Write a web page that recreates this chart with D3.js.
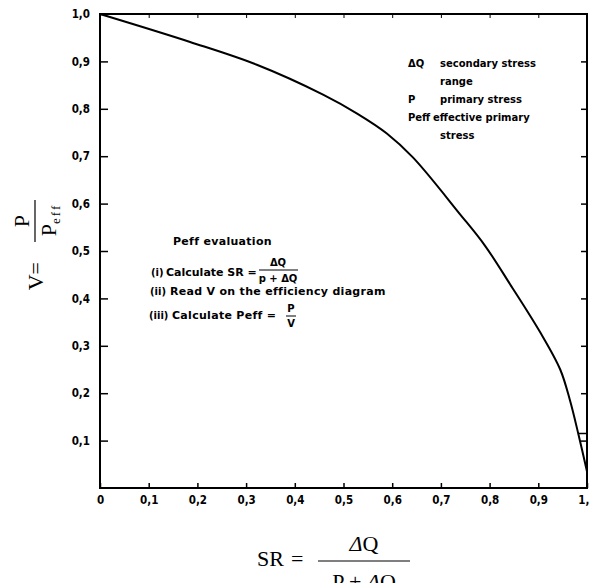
<!DOCTYPE html>
<html>
<head>
<meta charset="utf-8">
<script src="https://cdn.jsdelivr.net/npm/d3@7"></script>
<style>
  body { margin: 0; background: white; }
</style>
</head>
<body>
<div id="chart"></div>
<script>
// efficiency diagram V = P/Peff against SR
const srValues = [0, 0.185, 0.322, 0.458, 0.528, 0.589, 0.643, 0.739, 0.79, 0.842, 0.903, 0.945, 0.965, 0.982, 1.0];
const vValues  = [1.0, 0.941, 0.893, 0.830, 0.790, 0.748, 0.697, 0.578, 0.512, 0.430, 0.330, 0.250, 0.185, 0.115, 0.035];
const xTicks = [0, 0.1, 0.2, 0.3, 0.4, 0.5, 0.6, 0.7, 0.8, 0.9, 1.0];
const yTicks = [0.1, 0.2, 0.3, 0.4, 0.5, 0.6, 0.7, 0.8, 0.9, 1.0];
const legendLines = [
  ["ΔQ", "secondary stress"],
  ["", "range"],
  ["P", "primary stress"],
  ["Peff", "effective primary"],
  ["", "stress"]
];

const width = 589;
const height = 583;
const margin = {top: 14, right: 2, bottom: 95, left: 100};
const labelFont = "'DejaVu Sans Condensed', 'DejaVu Sans', sans-serif";
const noteFont = "'DejaVu Sans', sans-serif";
const serif = "'Liberation Serif', 'DejaVu Serif', serif";

const svg = d3.select('#chart')
              .append('svg')
              .attr('width', width)
              .attr('height', height)
              .style('background', 'white');

const x = d3.scaleLinear()
            .domain([0, 1])
            .range([margin.left, width - margin.right]);
const y = d3.scaleLinear()
            .domain([0, 1])
            .range([height - margin.bottom, margin.top]);

const fmt = d => d === 0 ? "0" : d3.format(".1f")(d).replace(".", ",");

// axes, ticks pointing inwards
svg.append("g")
   .attr("transform", `translate(${margin.left},0)`)
   .call(d3.axisLeft(y).tickValues(yTicks).tickFormat(fmt).tickSizeInner(-8).tickSizeOuter(0).tickPadding(10))
   .call(g => g.select(".domain").remove())
   .call(g => g.selectAll("text").style("font-family", labelFont).style("font-size", "11.5px").style("font-weight", "bold"))
   .call(g => g.selectAll("line").attr("stroke-width", 1.5));

svg.append("g")
   .attr("transform", `translate(0,${height - margin.bottom})`)
   .call(d3.axisBottom(x).tickValues(xTicks).tickFormat(fmt).tickSizeInner(-5).tickSizeOuter(0).tickPadding(8))
   .call(g => g.select(".domain").remove())
   .call(g => g.selectAll("text").style("font-family", labelFont).style("font-size", "11.5px").style("font-weight", "bold"))
   .call(g => g.selectAll("line").attr("stroke-width", 1.5));

svg.append("g")
   .attr("transform", `translate(0,${margin.top})`)
   .call(d3.axisTop(x).tickValues(xTicks.slice(1, -1)).tickFormat("").tickSizeInner(-4).tickSizeOuter(0))
   .call(g => g.select(".domain").remove());

svg.append("g")
   .attr("transform", `translate(${width - margin.right},0)`)
   .call(d3.axisRight(y).tickValues(yTicks.slice(0, -1)).tickFormat("").tickSizeInner(-6).tickSizeOuter(0))
   .call(g => g.select(".domain").remove())
   .call(g => g.selectAll("line").attr("stroke-width", 1.5));

svg.append("rect")
   .attr("x", x(0))
   .attr("y", y(1))
   .attr("width", x(1) - x(0))
   .attr("height", y(0) - y(1))
   .attr("fill", "none")
   .attr("stroke", "black")
   .attr("stroke-width", 2);

// curve
const pts = srValues.map((s, i) => [s, vValues[i]]);
svg.append("path")
   .datum(pts)
   .attr("d", d3.line().x(d => x(d[0])).y(d => y(d[1])).curve(d3.curveCatmullRom.alpha(0.5)))
   .attr("fill", "none")
   .attr("stroke", "black")
   .attr("stroke-width", 2);

// small mark at the end of the curve
svg.append("line")
   .attr("x1", x(0.982)).attr("x2", x(1))
   .attr("y1", y(0.115)).attr("y2", y(0.115))
   .attr("stroke", "black").attr("stroke-width", 1.5);

// legend, top right
const leg = svg.append("g")
   .style("font-family", noteFont)
   .style("font-size", "10px")
   .style("font-weight", "bold");
legendLines.forEach((l, i) => {
    const ty = 67 + i * 18;
    leg.append("text").attr("x", 408).attr("y", ty).text(l[0]);
    leg.append("text").attr("x", l[0] === "Peff" ? 433 : 440).attr("y", ty).text(l[1]);
});

// evaluation steps
const ev = svg.append("g")
   .style("font-family", noteFont)
   .style("font-size", "11px")
   .style("font-weight", "bold")
   .style("letter-spacing", "0.3px");
const small = s => s.style("font-size", "10px").style("letter-spacing", "0px");
ev.append("text").attr("x", 173).attr("y", 245).text("Peff evaluation");
ev.append("text").attr("x", 151).attr("y", 276).call(small).text("(i)");
ev.append("text").attr("x", 166).attr("y", 276).style("letter-spacing", "0px").text("Calculate SR =");
ev.append("text").attr("x", 278).attr("y", 266).attr("text-anchor", "middle").call(small).text("ΔQ");
ev.append("line").attr("x1", 259).attr("x2", 298).attr("y1", 270).attr("y2", 270).attr("stroke", "black");
ev.append("text").attr("x", 278).attr("y", 282).attr("text-anchor", "middle").call(small).text("p + ΔQ");
ev.append("text").attr("x", 150).attr("y", 295).call(small).text("(ii)");
ev.append("text").attr("x", 170).attr("y", 295).text("Read V on the efficiency diagram");
ev.append("text").attr("x", 149).attr("y", 319).call(small).text("(iii)");
ev.append("text").attr("x", 172).attr("y", 319).text("Calculate Peff =");
ev.append("text").attr("x", 291).attr("y", 312).attr("text-anchor", "middle").call(small).text("P");
ev.append("line").attr("x1", 286).attr("x2", 296).attr("y1", 316).attr("y2", 316).attr("stroke", "black");
ev.append("text").attr("x", 291).attr("y", 327).attr("text-anchor", "middle").call(small).text("V");

// y title: V = P / Peff, rotated
const yt = svg.append("g")
   .attr("transform", "translate(35,260) rotate(-90)")
   .style("font-family", serif)
   .style("font-size", "22px");
yt.append("text").attr("x", -2).attr("y", 8).attr("text-anchor", "end").text("V=");
yt.append("line").attr("x1", 18).attr("x2", 60).attr("y1", 0).attr("y2", 0).attr("stroke", "black").attr("stroke-width", 1.2);
yt.append("text").attr("x", 39).attr("y", -6).attr("text-anchor", "middle").text("P");
const den = yt.append("text").attr("x", 40).attr("y", 21).attr("text-anchor", "middle");
den.append("tspan").text("P");
den.append("tspan").attr("dy", 4).style("font-size", "13px").style("letter-spacing", "2px").text("eff");

// x title: SR = ΔQ / (P + ΔQ)
const xt = svg.append("g")
   .style("font-family", serif)
   .style("font-size", "22px");
xt.append("text").attr("x", 257).attr("y", 566).text("SR");
xt.append("text").attr("x", 291).attr("y", 566).text("=");
xt.append("line").attr("x1", 318).attr("x2", 410).attr("y1", 561).attr("y2", 561).attr("stroke", "black").attr("stroke-width", 1.2);
xt.append("text").attr("x", 364).attr("y", 551).attr("text-anchor", "middle").html('<tspan font-style="italic">Δ</tspan>Q');
xt.append("text").attr("x", 364).attr("y", 589).attr("text-anchor", "middle").html('P + <tspan font-style="italic">Δ</tspan>Q');
</script>
</body>
</html>
